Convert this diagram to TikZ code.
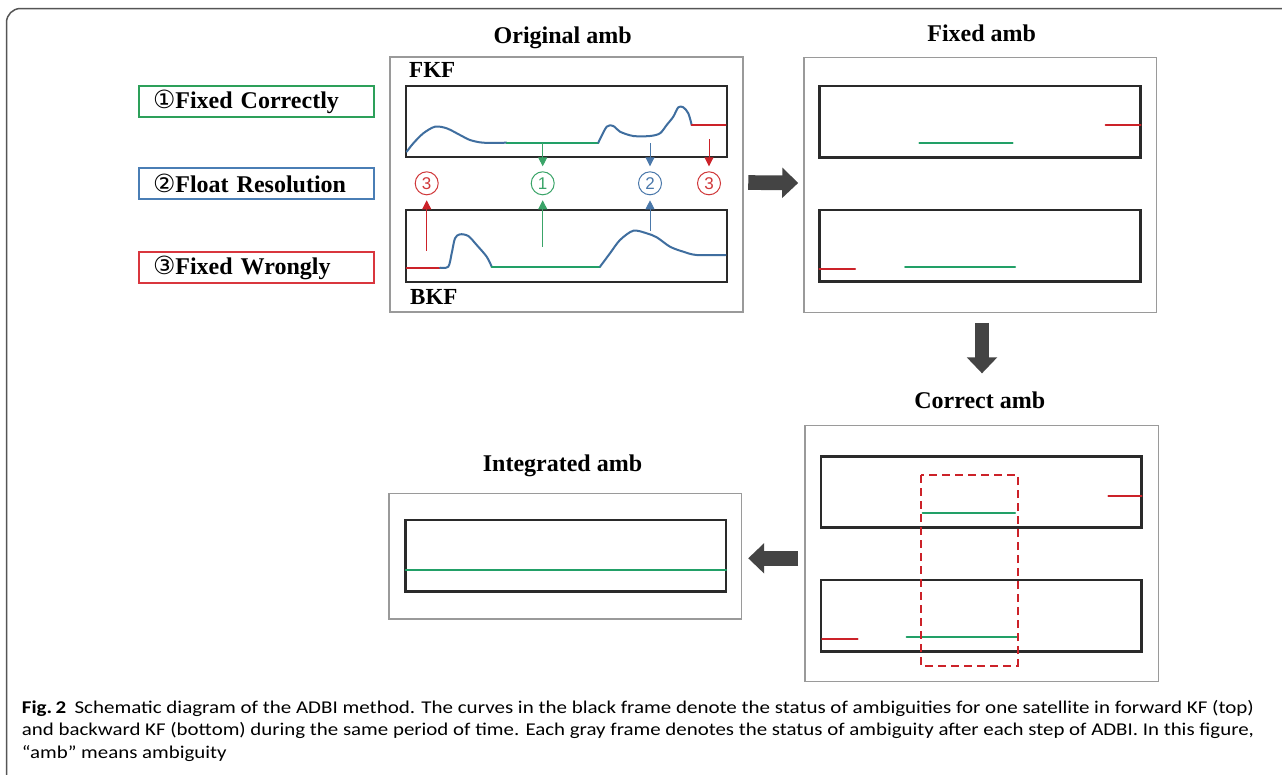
\documentclass[tikz,border=0pt]{standalone}
\usepackage{fontspec}
\usepackage{graphicx}
\setmainfont{Liberation Serif}
\newfontfamily\symfont{DejaVu Sans}
\newfontfamily\capfont{Carlito}
\newfontfamily\digfont{Liberation Sans}
\usetikzlibrary{arrows.meta}
\definecolor{legG}{HTML}{2DA05A}
\definecolor{legB}{HTML}{4A7EB5}
\definecolor{legR}{HTML}{D9363E}
\definecolor{curveB}{HTML}{3F6E9F}
\definecolor{lineG}{HTML}{22A067}
\definecolor{lineR}{HTML}{CC2229}
\definecolor{cirR}{HTML}{D0383A}
\definecolor{cirG}{HTML}{3AA468}
\definecolor{cirB}{HTML}{4A78AA}
\definecolor{grayframe}{HTML}{9A9A9A}
\definecolor{blackframe}{HTML}{2A2A2A}
\definecolor{arrgray}{HTML}{444444}
\definecolor{outerframe}{HTML}{555555}
\newsavebox\capboxB
\newsavebox\capboxC
\newcommand\capsizefont{\capfont\fontsize{18}{20}\selectfont}
\newcommand\captwotext{and backward KF (bottom) during the same period of time. Each gray frame denotes the status of ambiguity after each step of ADBI. In this figure,}
\begin{document}
\begin{tikzpicture}[x=1pt,y=-1pt,
  titlefont/.style={font=\fontsize{24}{28}\selectfont\bfseries},
  title/.style={titlefont, anchor=base, inner sep=0pt},
  legbox/.style={draw, line width=1.6pt, text width=207pt, inner xsep=14pt, inner ysep=0pt,
    minimum height=31pt, align=left, font=\fontsize{24}{28}\selectfont\bfseries},
  graybox/.style={draw=grayframe, line width=1.5pt, fill=white, inner sep=0pt},
  blackbox/.style={draw=blackframe, line width=2.5pt, inner sep=0pt},
  curve/.style={line width=2pt, line join=round, line cap=round},
  circnum/.style={circle, draw, line width=1pt, minimum size=23pt, inner sep=0pt,
    font=\digfont\fontsize{17}{17}\selectfont},
  smallarr/.style={line width=0.9pt, -{Triangle[width=9pt,length=9pt]}, shorten >=5pt},
  bigarrow/.style={draw=arrgray, line width=14.7pt, -{Triangle[width=29.5pt,length=16pt]}},
  kflabel/.style={font=\fontsize{23}{26}\selectfont\bfseries, inner sep=0pt, anchor=base west},
  capline/.style={anchor=base west, inner sep=0pt}
]
\useasboundingbox (0,0) rectangle (1282,774);
\fill[white] (0,0) rectangle (1282,774);
% outer frame
\draw[outerframe, line width=1.5pt, rounded corners=14pt] (1320,8.5) -- (6.5,8.5) -- (6.5,820);

% legend
\node[legbox, draw=legG] (leg1) at (256.5,101.5) {{\symfont\fontsize{25}{28}\selectfont\mdseries ①}Fixed Correctly};
\node[legbox, draw=legB] (leg2) at (256.5,183.5) {{\symfont\fontsize{25}{28}\selectfont\mdseries ②}Float Resolution};
\node[legbox, draw=legR] (leg3) at (256.5,267.5) {{\symfont\fontsize{25}{28}\selectfont\mdseries ③}Fixed Wrongly};

% gray frames
\node[graybox, minimum width=353pt, minimum height=255pt] (orig) at (566.5,184.5) {};
\node[graybox, minimum width=352.7pt, minimum height=255.4pt] (fixed) at (980.3,185) {};
\node[graybox, minimum width=353.3pt, minimum height=256pt] (correct) at (981.7,553.7) {};
\node[graybox, minimum width=352.7pt, minimum height=125.7pt] (integ) at (565.3,556.2) {};

% titles
\node[title] (torig) at (562.7,43.3) {Original amb};
\node[title] (tfixed) at (981.7,41.7) {Fixed amb};
\node[title] (tcorrect) at (979.7,408.3) {Correct amb};
\node[title] (tinteg) at (562.5,471) {Integrated amb};

% ---------- Original amb ----------
\node[kflabel] (fkf) at (409,77.3) {FKF};
\node[kflabel] (bkf) at (410,304) {BKF};
\node[blackbox, minimum width=321pt, minimum height=71pt] (ofkf) at (566.5,121.5) {};
\node[blackbox, minimum width=321pt, minimum height=72pt] (obkf) at (566.5,246) {};

% FKF curve
\draw[curve, curveB] plot[smooth, tension=0.5] coordinates {
 (406.7,151.7) (413.3,143.3) (423.3,133.3) (435,126.7) (446.7,128.3) (460,135)
 (470,140) (483.3,142.7) (506.7,142.7)};
\draw[curve, lineG] (506.7,142.7) -- (598.3,142.7);
\draw[curve, curveB] plot[smooth, tension=0.5] coordinates {
 (598.3,142.7) (606.7,126.7) (613.3,126) (620,131.7) (633.3,136) (650,136)
 (660,133.3) (666.7,125) (673.3,116.7) (678.3,107.3) (683.3,107.3) (688.3,113.3) (691.7,125)};
\draw[curve, lineR] (691.7,125) -- (725.7,125);

% BKF curve
\draw[curve, lineR] (406.7,267.7) -- (440,267.7);
\draw[curve, curveB] plot[smooth, tension=0.5] coordinates {
 (440,267.7) (448.3,266.7) (451.7,253.3) (455,238.3) (460,234.3) (468.3,236)
 (476.7,245) (486.7,256.7) (491.7,266.7)};
\draw[curve, lineG] (491.7,266.7) -- (600,266.7);
\draw[curve, curveB] plot[smooth, tension=0.5] coordinates {
 (600,266.7) (610,253.3) (620,240) (633.3,230.7) (646.7,233.3) (656.7,237.3)
 (670,246.7) (683.3,251.7) (696.7,255) (725.7,255)};

% circled numbers
\node[circnum, draw=cirR, text=cirR] (c3a) at (426.7,183.3) {3};
\node[circnum, draw=cirG, text=cirG] (c1) at (542.7,183.3) {1};
\node[circnum, draw=cirB, text=cirB] (c2) at (650,183.3) {2};
\node[circnum, draw=cirR, text=cirR] (c3b) at (709,183.3) {3};

\coordinate (g1d) at (542.7,143.3);
\coordinate (b2d) at (650,143.3);
\coordinate (r3d) at (709,139.3);
\coordinate (r3u) at (426.7,250.7);
\coordinate (g1u) at (542.7,246.7);
\coordinate (b2u) at (650,230.7);
\draw[smallarr, cirG] (g1d) -- (c1.north);
\draw[smallarr, cirB] (b2d) -- (c2.north);
\draw[smallarr, lineR] (r3d) -- (c3b.north);
\draw[smallarr, lineR] (r3u) -- (c3a.south);
\draw[smallarr, cirG] (g1u) -- (c1.south);
\draw[smallarr, cirB] (b2u) -- (c2.south);

% ---------- Fixed amb ----------
\node[blackbox, minimum width=321.4pt, minimum height=71.3pt] (ffkf) at (980,121.65) {};
\node[blackbox, minimum width=321.4pt, minimum height=71.7pt] (fbkf) at (980,245.85) {};
\draw[curve, lineR] (1105.7,125) -- (1140.7,125);
\draw[curve, lineG] (919.3,142.7) -- (1012.7,142.7);
\draw[curve, lineR] (819.3,269.3) -- (855,269.3);
\draw[curve, lineG] (905,266.7) -- (1015,266.7);

% ---------- Correct amb ----------
\node[blackbox, minimum width=320.7pt, minimum height=71pt] (cfkf) at (981.35,492.2) {};
\node[blackbox, minimum width=320.7pt, minimum height=71.7pt] (cbkf) at (981.35,615.85) {};
\draw[curve, lineR] (1108.3,496) -- (1141.7,496);
\draw[curve, lineG] (922.7,513.3) -- (1015,513.3);
\draw[curve, lineR] (822,639.3) -- (857.7,639.3);
\draw[curve, lineG] (906.7,637) -- (1016.7,637);
\draw[lineR, line width=2pt, dash pattern=on 8pt off 5pt] (921,475) rectangle (1017.7,665.7);

% ---------- Integrated amb ----------
\node[blackbox, minimum width=320.3pt, minimum height=71.7pt] (ibox) at (565.85,555.85) {};
\draw[curve, lineG] (405.7,570) -- (726,570);

% ---------- big arrows ----------
\coordinate (dax) at (982,0);
\coordinate (lay) at (0,558.3);
\draw[bigarrow, shorten <=4.5pt, shorten >=5pt] ([yshift=2pt]orig.east) -- ([yshift=2pt]fixed.west);
\draw[bigarrow, shorten <=9.3pt, shorten >=51.6pt] (fixed.south -| dax) -- (correct.north -| dax);
\draw[bigarrow, shorten <=6.2pt, shorten >=5.8pt] (correct.west |- lay) -- (integ.east |- lay);

% ---------- caption ----------
\node[capline] (cap1) at (21.7,713) {\resizebox{1232pt}{\height}{\capsizefont\textbf{Fig.\,2}\hspace{7pt}Schematic diagram of the ADBI method. The curves in the black frame denote the status of ambiguities for one satellite in forward KF (top)}};
\node[capline] (cap2) at (21.7,735.5) {\resizebox{1232pt}{\height}{\capsizefont\captwotext}};
\node[capline] (cap3) at (21.7,758) {\sbox\capboxB{\capsizefont\captwotext}\sbox\capboxC{\capsizefont “amb” means ambiguity}\pgfmathsetmacro\capsc{1232/\the\wd\capboxB*\the\wd\capboxC}\resizebox{\capsc pt}{\height}{\usebox\capboxC}};
\end{tikzpicture}
\end{document}
